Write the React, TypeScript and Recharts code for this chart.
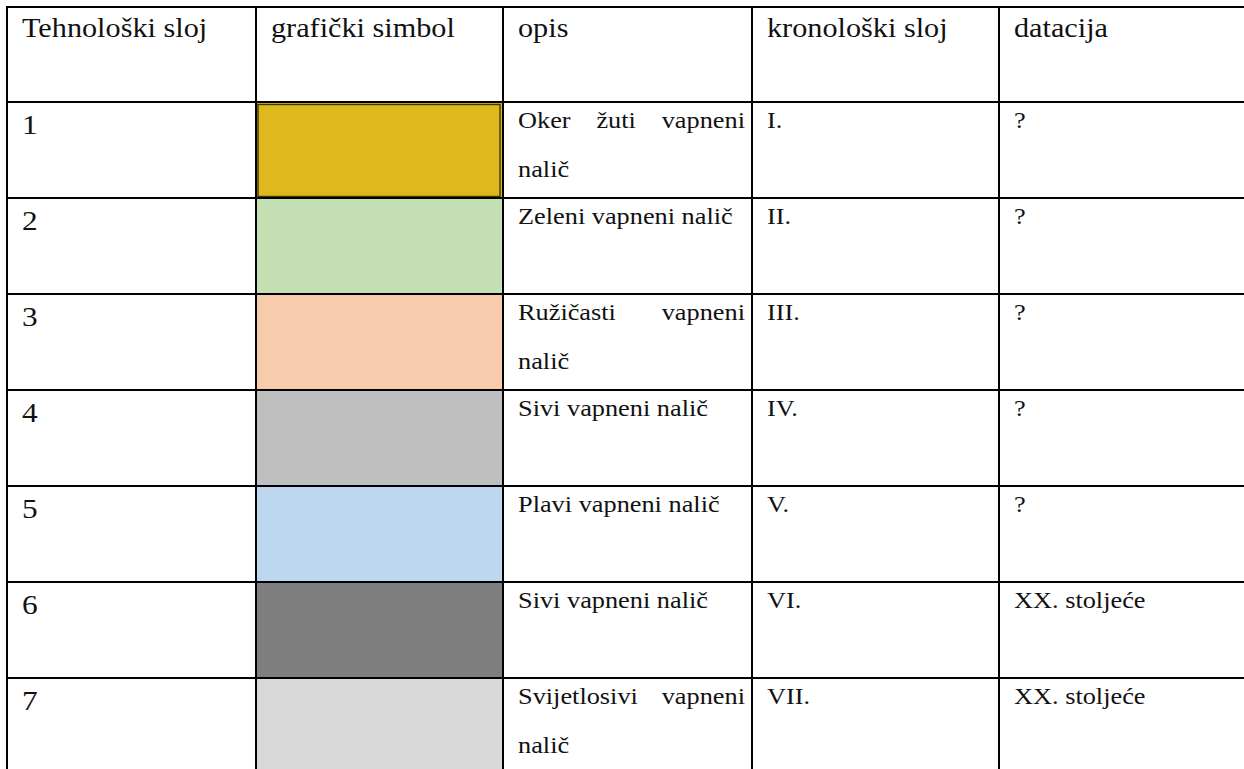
import React from 'react'
import { BarChart, Bar, XAxis, YAxis, Customized } from 'recharts'

// table content, one entry per technological layer
const headers = ['Tehnološki sloj', 'grafički simbol', 'opis', 'kronološki sloj', 'datacija']
const layers = ['1', '2', '3', '4', '5', '6', '7']
const swatches = ['#DEB91E', '#C5E0B4', '#F8CBAD', '#BFBFBF', '#BDD7EE', '#7F7F7F', '#D9D9D9']
const descriptions = [
    ['Oker žuti vapneni', 'nalič'],
    ['Zeleni vapneni nalič'],
    ['Ružičasti vapneni', 'nalič'],
    ['Sivi vapneni nalič'],
    ['Plavi vapneni nalič'],
    ['Sivi vapneni nalič'],
    ['Svijetlosivi vapneni', 'nalič'],
]
const chronoLayers = ['I.', 'II.', 'III.', 'IV.', 'V.', 'VI.', 'VII.']
const datings = ['?', '?', '?', '?', '?', 'XX. stoljeće', 'XX. stoljeće']
const coverage = [1, 1, 1, 1, 1, 1, 1]

const data = layers.map((layer, i) => ({
    layer,
    span: coverage[i],
    color: swatches[i],
    desc: descriptions[i],
    chrono: chronoLayers[i],
    dating: datings[i],
}))

const W = 1244
const H = 774
const COLS = [7, 256, 503, 752, 999]
const PAD = 15
const TOP = 7
const HEAD_BOTTOM = 102
const FONT = '"Liberation Serif", "Times New Roman", serif'
const INK = '#111'
const LINE = '#000'
// the source scan is a little wider than tall, so glyphs get stretched sideways
const SX = 1.12

const SIZE_HEAD = 27
const SIZE_NUM = 28
const SIZE_TEXT = 23.5
const SIZE_DATE = 23.5

const measureCtx = typeof document !== 'undefined' ? document.createElement('canvas').getContext('2d') : null

function T({ x, y, size, children }: { x: number; y: number; size: number; children: string }) {
    return (
        <text transform={`translate(${x},${y}) scale(${SX},1)`} fontFamily={FONT} fontSize={size} fill={INK}>
            {children}
        </text>
    )
}

// spread the words of a wrapped line across the cell, like justified text in Word
function justify(line: string, left: number, right: number, size: number) {
    const words = line.split(' ')
    if (!measureCtx || words.length < 2) return [{ w: line, x: left }]
    measureCtx.font = `${size}px "Liberation Serif"`
    const widths = words.map((w) => measureCtx.measureText(w).width * SX)
    const total = widths.reduce((a, b) => a + b, 0)
    const gap = (right - left - total) / (words.length - 1)
    let cx = left
    return words.map((w, k) => {
        const pos = cx
        cx += widths[k] + gap
        return { w, x: pos }
    })
}

function HeaderRow() {
    return (
        <g>
            <line x1={COLS[0] - 1} x2={W} y1={TOP} y2={TOP} stroke={LINE} strokeWidth={2} />
            <line x1={COLS[0] - 1} x2={W} y1={HEAD_BOTTOM} y2={HEAD_BOTTOM} stroke={LINE} strokeWidth={2} />
            {COLS.map((cx) => (
                <line key={cx} x1={cx} x2={cx} y1={TOP} y2={HEAD_BOTTOM} stroke={LINE} strokeWidth={2} />
            ))}
            {headers.map((h, i) => (
                <T key={h} x={COLS[i] + PAD} y={TOP + 30} size={SIZE_HEAD}>{h}</T>
            ))}
        </g>
    )
}

function RowShape(props: any) {
    const { x, y, width, height } = props
    const row = props.payload ?? props
    const right = COLS[3] - 7
    const wrapped = row.desc.length > 1

    return (
        <g>
            <rect x={x} y={y} width={width} height={height} fill={row.color} />
            {row.layer === '1' && (
                <rect x={x + 2} y={y + 2.5} width={width - 5} height={height - 4} fill="none" stroke="#3f3300" strokeWidth={1.4} />
            )}
            <line x1={COLS[0] - 1} x2={W} y1={y} y2={y} stroke={LINE} strokeWidth={2} />
            <line x1={COLS[0] - 1} x2={W} y1={y + height} y2={y + height} stroke={LINE} strokeWidth={2} />
            {COLS.map((cx) => (
                <line key={cx} x1={cx} x2={cx} y1={y} y2={y + height} stroke={LINE} strokeWidth={2} />
            ))}

            <T x={COLS[0] + PAD} y={y + 32} size={SIZE_NUM}>{row.layer}</T>

            {row.desc.map((line: string, k: number) => {
                const ly = y + 26 + k * 49
                if (wrapped && k === 0) {
                    return justify(line, COLS[2] + PAD, right, SIZE_TEXT).map((p) => (
                        <T key={p.w} x={p.x} y={ly} size={SIZE_TEXT}>{p.w}</T>
                    ))
                }
                return <T key={k} x={COLS[2] + PAD} y={ly} size={SIZE_TEXT}>{line}</T>
            })}

            <T x={COLS[3] + PAD} y={y + 26} size={SIZE_TEXT}>{row.chrono}</T>
            <T x={COLS[4] + PAD} y={y + 26} size={SIZE_DATE}>{row.dating}</T>
        </g>
    )
}

export default function App() {
    return (
        <div style={{ position: 'absolute', left: 0, top: 0, width: W, height: 769, overflow: 'hidden', background: '#fff' }}>
            <BarChart
                width={W}
                height={H}
                data={data}
                layout="vertical"
                barCategoryGap={0}
                margin={{ top: HEAD_BOTTOM, left: COLS[1], right: W - COLS[2], bottom: 0 }}
            >
                <XAxis type="number" domain={[0, 1]} hide />
                <YAxis type="category" dataKey="layer" hide />
                <Bar dataKey="span" shape={RowShape} isAnimationActive={false} />
                <Customized component={HeaderRow} />
            </BarChart>
        </div>
    )
}
